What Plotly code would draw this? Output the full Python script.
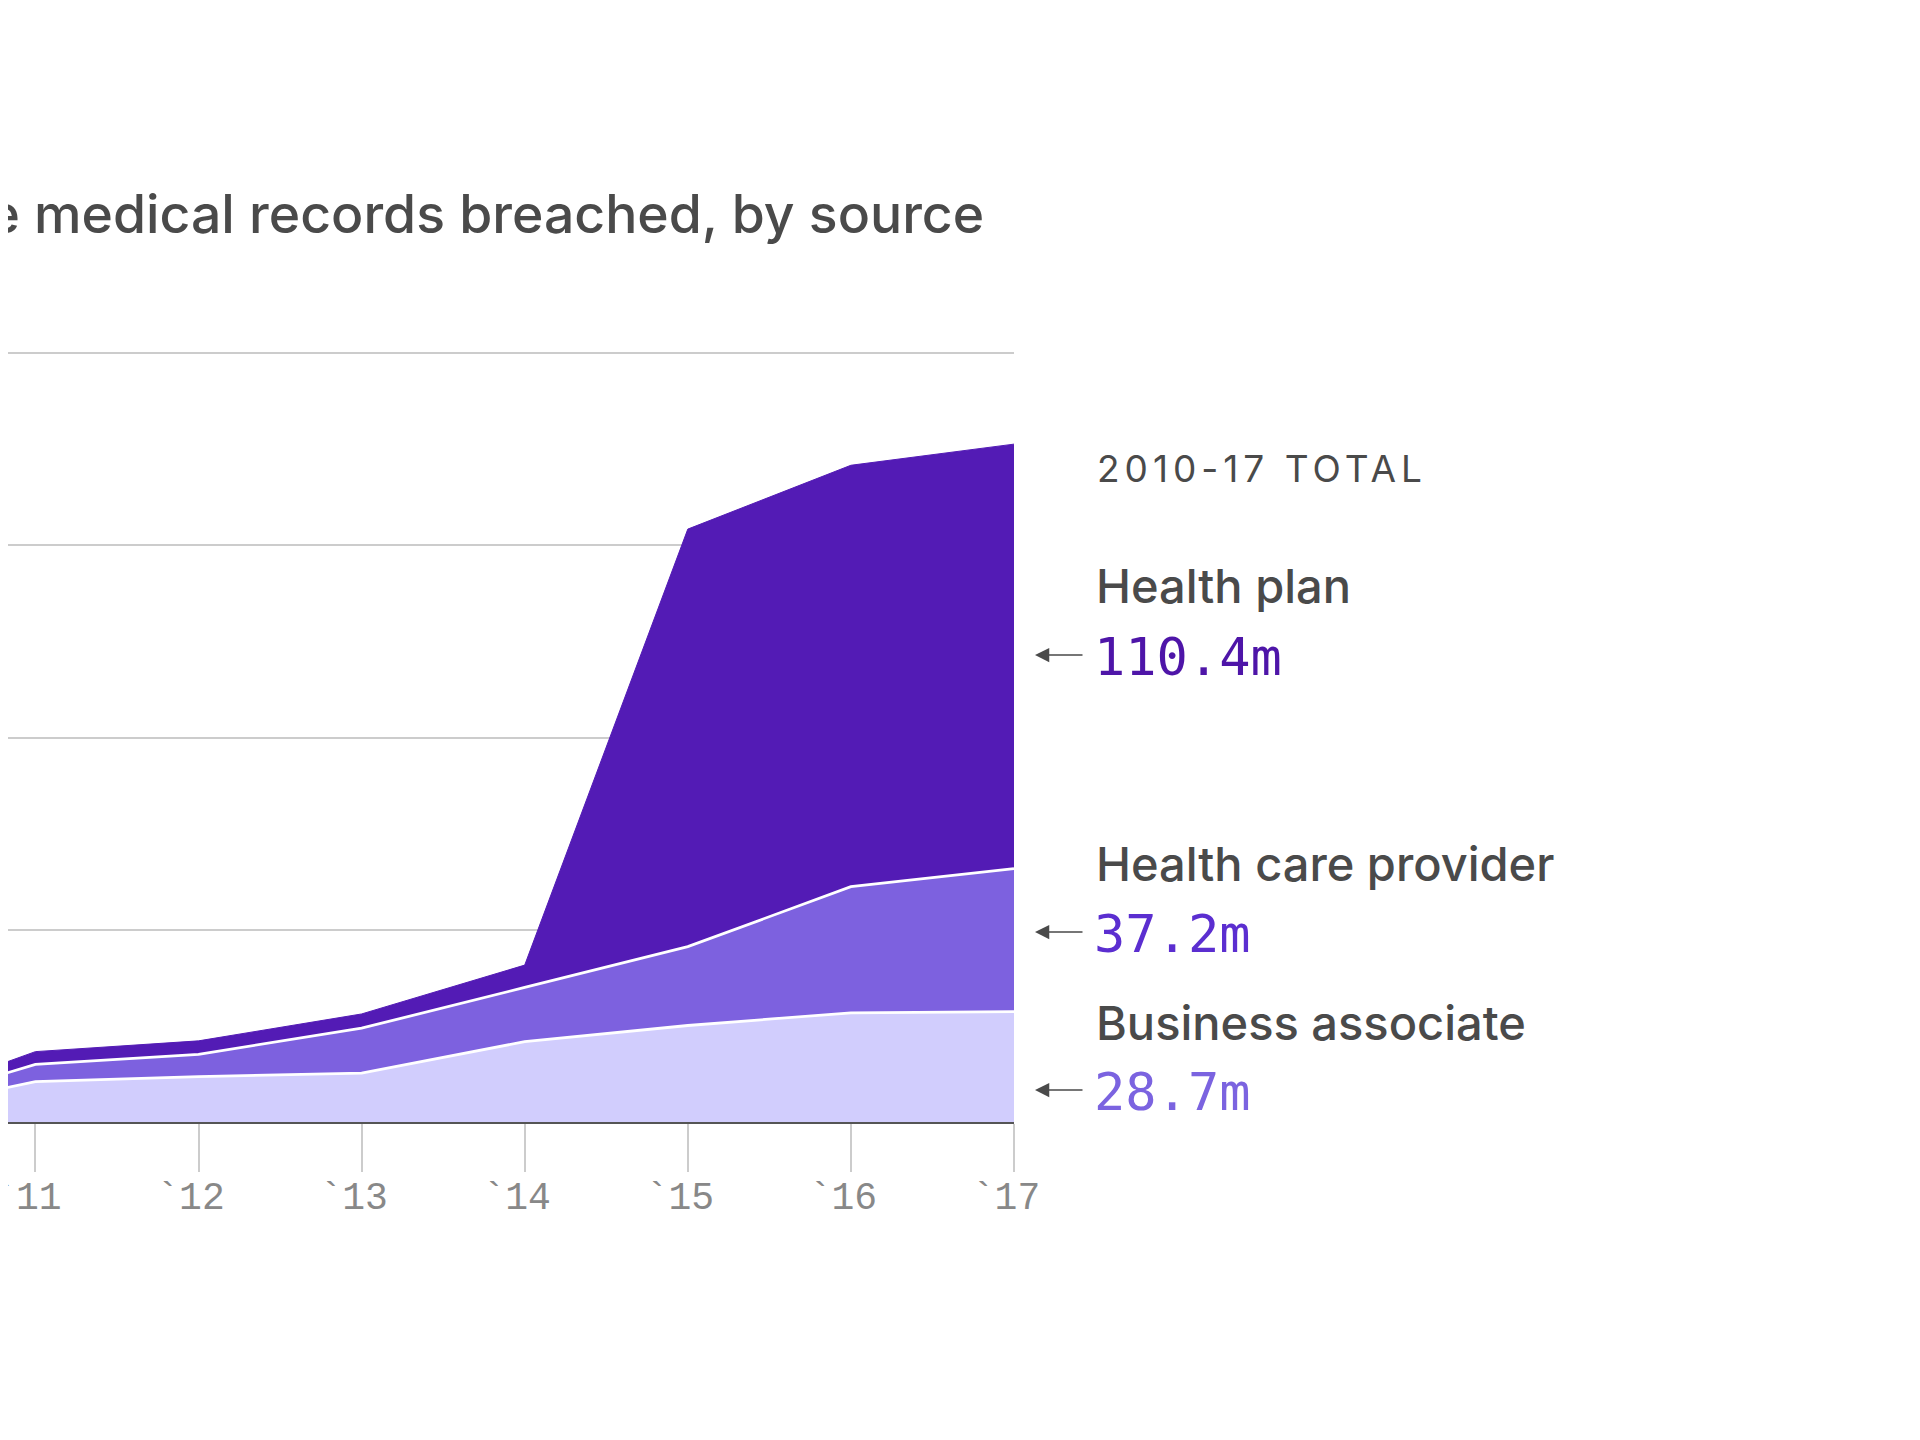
import plotly.graph_objects as go

# ---- data (cumulative records breached, millions) ----
years = [2010, 2011, 2012, 2013, 2014, 2015, 2016, 2017]
tick_labels = ["`10", "`11", "`12", "`13", "`14", "`15", "`16", "`17"]
business_associate = [1.5, 10.5, 11.8, 12.7, 20.9, 25.1, 28.4, 28.7]
health_care_provider = [0.7, 4.5, 5.8, 11.7, 14.1, 20.5, 32.8, 37.2]
health_plan = [0.8, 3.3, 3.5, 3.7, 5.8, 108.6, 109.6, 110.4]
grid_values = [0, 50, 100, 150, 200]

title_text = "Cumulative medical records breached, by source"
total_header = "2010-17 TOTAL"
series_names = ["Health plan", "Health care provider", "Business associate"]

# ---- style / layout (page pixel targets; page has an 8px body offset) ----
W, H = 1920, 1440
OFF = 8
P_LEFT, P_RIGHT, P_TOP, P_BOTTOM = 0, 1014, 349, 1122  # page pixels
GRID_TOP_PAGE = 353
C_PLAN, C_HCP, C_BA = "#531bb5", "#7d61df", "#d1cdfd"
T_PLAN, T_HCP, T_BA = "#4e15a8", "#5b2ed0", "#7b63e0"
GRAY = "#4a4a4a"
SANS = "Inter, Lato, sans-serif"
MONO = "'DejaVu Sans Mono', monospace"

PL, PR, PT, PB = P_LEFT, P_RIGHT - OFF, P_TOP - OFF, P_BOTTOM - OFF
px_per_unit = (P_BOTTOM - GRID_TOP_PAGE) / grid_values[-1]
y_top = grid_values[-1] + (GRID_TOP_PAGE - P_TOP) / px_per_unit
px_per_year = 163.1
x_left = years[-1] - (PR - PL) / px_per_year


def px(xpage):
    return (xpage - OFF - PL) / (PR - PL)


def py(ypage):
    return (PB - (ypage - OFF)) / (PB - PT)


fig = go.Figure()
fig.add_trace(go.Scatter(x=years, y=business_associate, stackgroup="s", mode="lines",
                         line=dict(color="white", width=2.8), fillcolor=C_BA,
                         name=series_names[2], hoverinfo="skip"))
fig.add_trace(go.Scatter(x=years, y=health_care_provider, stackgroup="s", mode="lines",
                         line=dict(color="white", width=2.8), fillcolor=C_HCP,
                         name=series_names[1], hoverinfo="skip"))
fig.add_trace(go.Scatter(x=years, y=health_plan, stackgroup="s", mode="lines",
                         line=dict(color=C_PLAN, width=1), fillcolor=C_PLAN,
                         name=series_names[0], hoverinfo="skip"))

ann = []
ann.append(dict(text=title_text, x=px(986), y=py(214), xref="paper", yref="paper",
                xanchor="right", yanchor="middle", showarrow=False,
                font=dict(family=SANS, size=53.5, color=GRAY, weight=500)))
ann.append(dict(text=f'<span style="letter-spacing:5px">{total_header}</span>',
                x=px(1095), y=py(468), xref="paper", yref="paper",
                xanchor="left", yanchor="middle", showarrow=False,
                font=dict(family=SANS, size=37, color=GRAY)))

labels = [
    (series_names[0], f"{health_plan[-1]}m", T_PLAN, 585, 657),
    (series_names[1], f"{health_care_provider[-1]}m", T_HCP, 863, 934),
    (series_names[2], f"{business_associate[-1]}m", T_BA, 1022, 1092),
]
for name, val, col, yl, yv in labels:
    ann.append(dict(text=name, x=px(1094), y=py(yl), xref="paper", yref="paper",
                    xanchor="left", yanchor="middle", showarrow=False,
                    font=dict(family=SANS, size=47, color=GRAY, weight=500)))
    ann.append(dict(text=val, x=px(1092), y=py(yv), xref="paper", yref="paper",
                    xanchor="left", yanchor="middle", showarrow=False,
                    font=dict(family=MONO, size=52, color=col)))
    ann.append(dict(text="", x=px(1035), y=py(yv - 2), xref="paper", yref="paper",
                    ax=49, ay=0, showarrow=True, arrowhead=2, arrowsize=1.9,
                    arrowwidth=1.5, arrowcolor=GRAY))

fig.update_layout(
    width=W, height=H, autosize=False,
    margin=dict(l=PL, r=W - PR, t=PT, b=H - PB, pad=0, autoexpand=False),
    paper_bgcolor="white", plot_bgcolor="white",
    showlegend=False,
    annotations=ann,
    xaxis=dict(range=[x_left, years[-1]], tickvals=years, ticktext=tick_labels,
               automargin=False,
               showgrid=False, zeroline=False, showline=True, linecolor="#555555",
               linewidth=2, ticks="outside", ticklen=48, tickwidth=1.5,
               tickcolor="#cccccc", ticklabelstandoff=-9, ticklabelshift=-8,
               ticklabeloverflow="allow",
               tickfont=dict(family="'Liberation Mono', monospace", size=38, color="#888888")),
    yaxis=dict(range=[grid_values[0], y_top], tickvals=grid_values,
               automargin=False,
               showgrid=True, gridcolor="#cccccc", gridwidth=1.5,
               showticklabels=False, zeroline=False, showline=False, ticks=""),
)

fig.write_html("out.html")
